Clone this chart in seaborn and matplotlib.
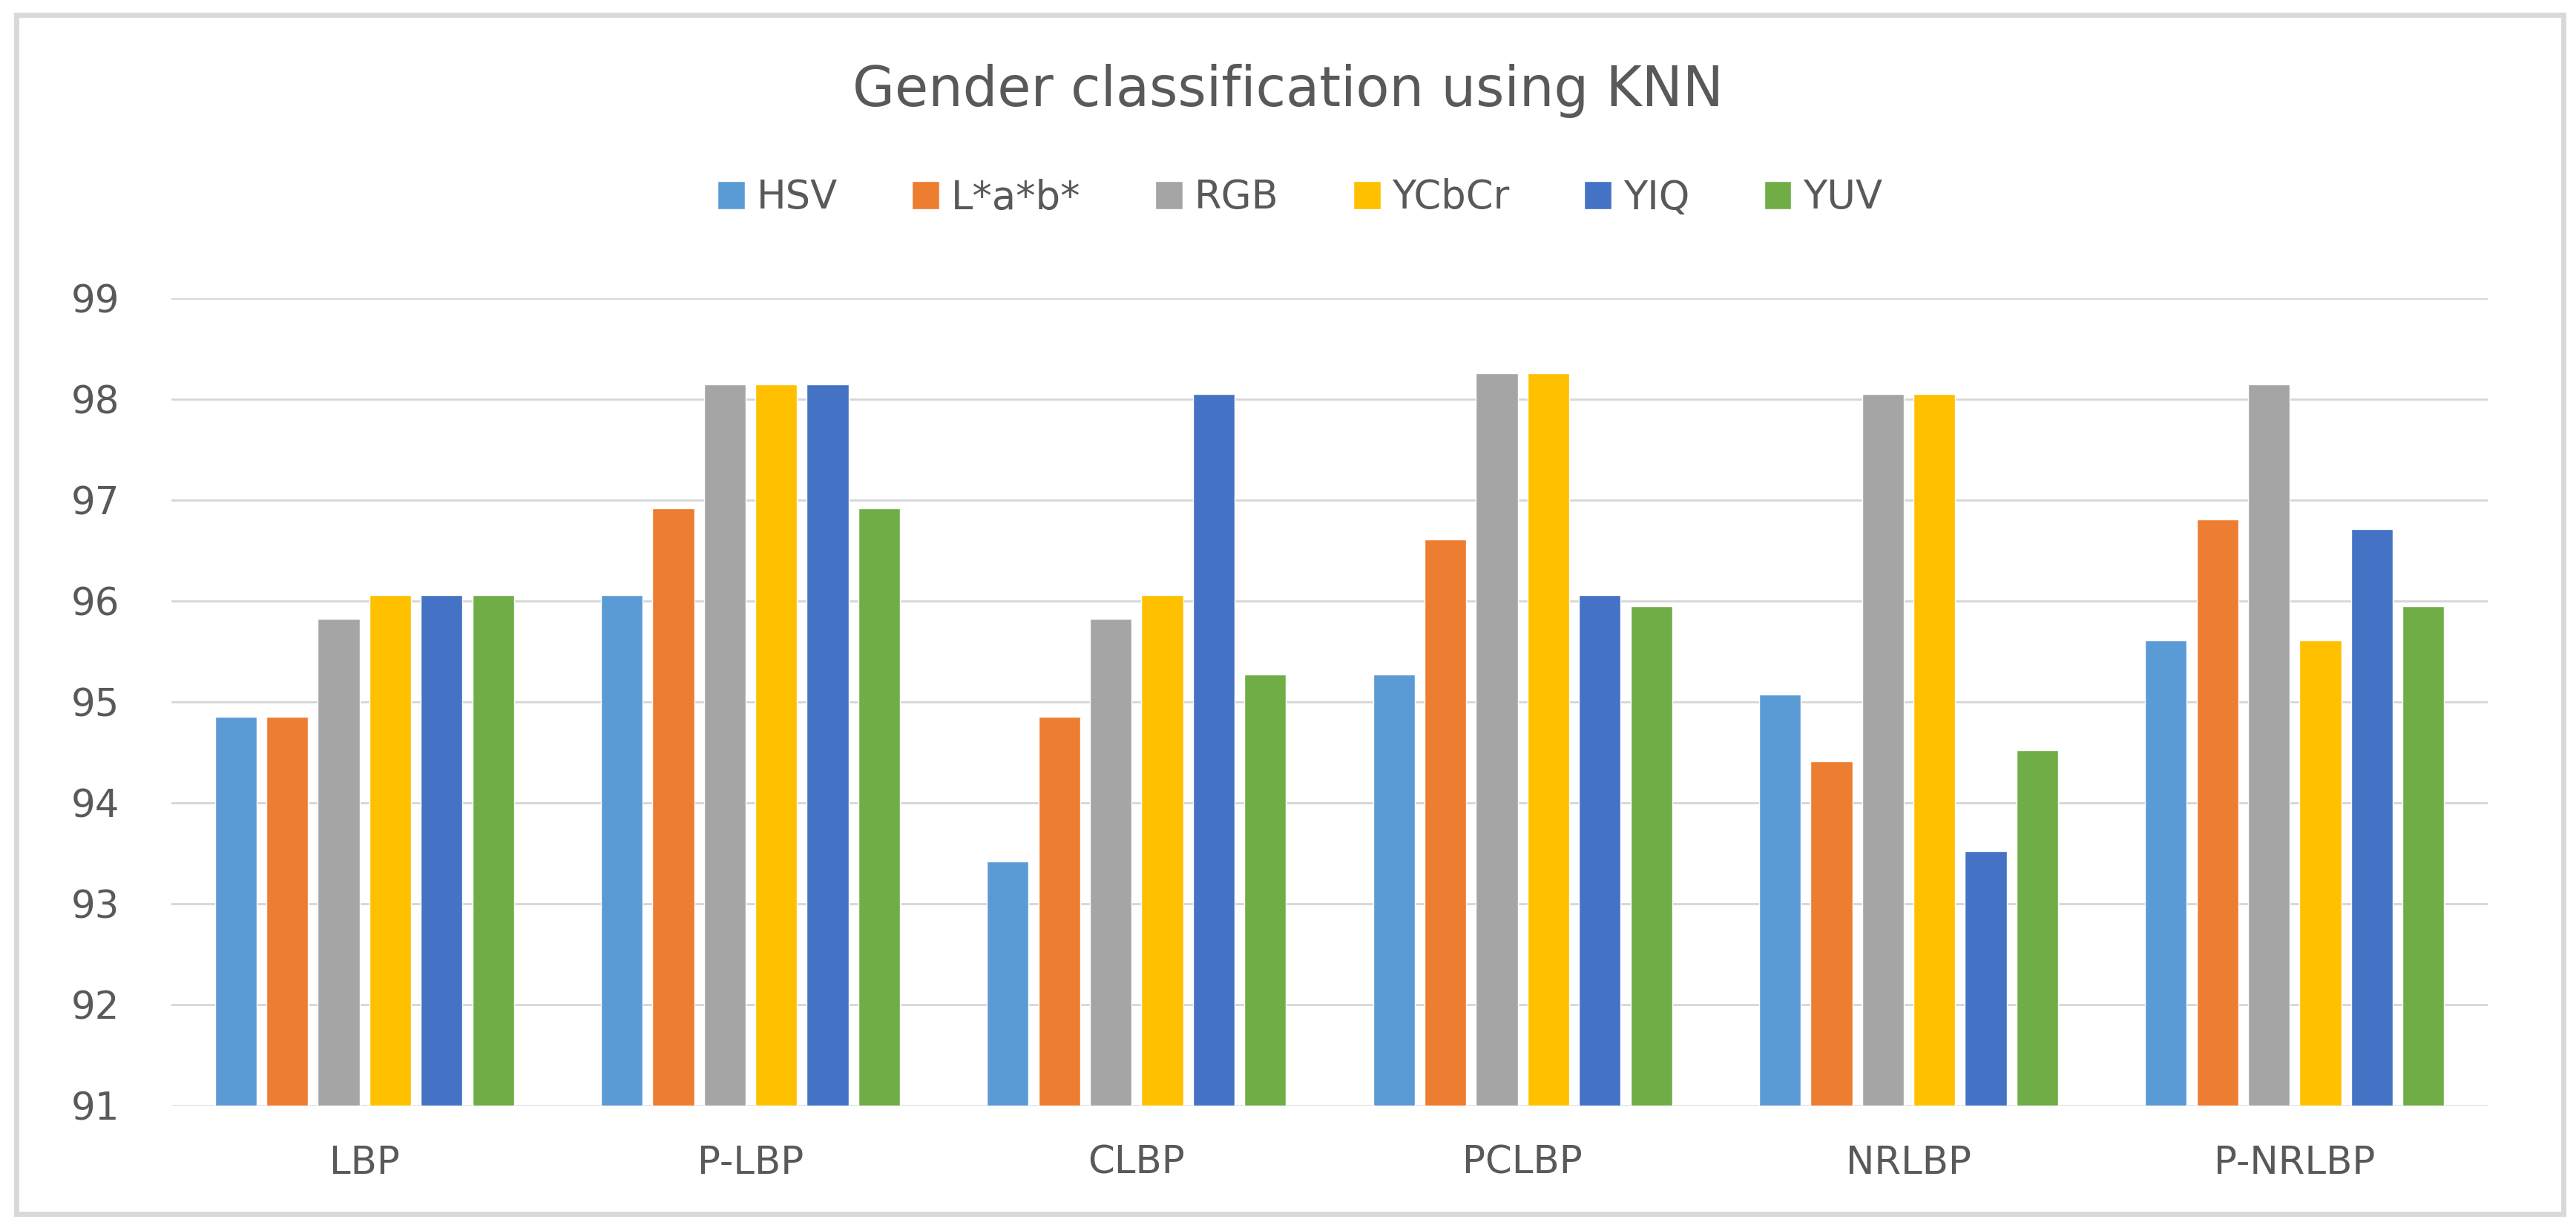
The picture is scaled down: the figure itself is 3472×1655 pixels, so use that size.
import matplotlib
matplotlib.use("Agg")
import matplotlib.pyplot as plt
import seaborn as sns
import pandas as pd
from matplotlib.patches import Rectangle

categories = ["LBP", "P-LBP", "CLBP", "PCLBP", "NRLBP", "P-NRLBP"]
series_names = ["HSV", "L*a*b*", "RGB", "YCbCr", "YIQ", "YUV"]
hsv   = [94.85, 96.06, 93.42, 95.27, 95.07, 95.61]
lab   = [94.85, 96.92, 94.85, 96.61, 94.41, 96.81]
rgb   = [95.82, 98.15, 95.82, 98.26, 98.05, 98.15]
ycbcr = [96.06, 98.15, 96.06, 98.26, 98.05, 95.61]
yiq   = [96.06, 98.15, 98.05, 96.06, 93.52, 96.71]
yuv   = [96.06, 96.92, 95.27, 95.95, 94.52, 95.95]
colors = ["#5B9BD5", "#ED7D31", "#A5A5A5", "#FFC000", "#4472C4", "#70AD47"]
yticks = [91, 92, 93, 94, 95, 96, 97, 98, 99]

rows = []
for name, vals in zip(series_names, [hsv, lab, rgb, ycbcr, yiq, yuv]):
    for c, v in zip(categories, vals):
        rows.append({"method": c, "space": name, "acc": v})
df = pd.DataFrame(rows)

sns.set_theme(style="white")
plt.rcParams['font.family'] = ['DejaVu Sans']
txt = "#595959"

fig = plt.figure(figsize=(34.73, 16.55), dpi=100)
ax = fig.add_axes([231/3473, 1-1490/1655, (3353-231)/3473, (1490-402)/1655])

sns.barplot(data=df, x="method", y="acc", hue="space", order=categories,
            hue_order=series_names, palette=colors, width=0.8, gap=0.19,
            ax=ax, legend=True, saturation=1)

ax.set_ylim(91, 99)
ax.set_yticks(yticks)
ax.set_xlim(-0.5, 5.5)
ax.set_xlabel("")
ax.set_ylabel("")
for s in ax.spines.values():
    s.set_visible(False)
ax.yaxis.grid(True, color="#D6D6D6", linewidth=2.0)
ax.set_axisbelow(True)
ax.tick_params(axis="y", length=0, pad=50, labelsize=37, labelcolor=txt)
ax.tick_params(axis="x", length=0, pad=38, labelsize=37, labelcolor=txt)

handles, labels = ax.get_legend_handles_labels()
ax.get_legend().remove()
fig.legend(handles, labels, loc="center", bbox_to_anchor=(0.5045, 0.839),
           ncol=6, frameon=False, fontsize=38, labelcolor=txt,
           handlelength=0.7, handleheight=0.75, handletextpad=0.3,
           columnspacing=1.9)

fig.text(0.5, 0.926, "Gender classification using KNN", ha="center",
         va="center", fontsize=53, color=txt)

fig.patches.append(Rectangle((22/3473, 1-1636/1655), (3455-22)/3473,
                             (1636-20)/1655, transform=fig.transFigure,
                             fill=False, edgecolor="#D9D9D9", linewidth=5))

fig.savefig("out.png", dpi=100, facecolor="white")
